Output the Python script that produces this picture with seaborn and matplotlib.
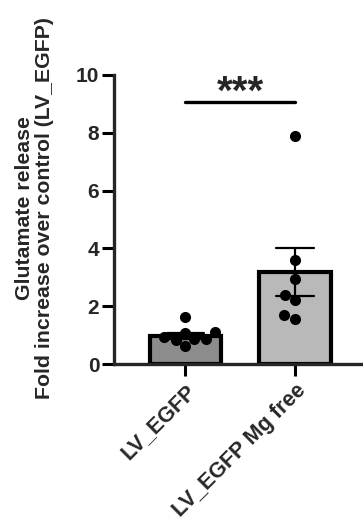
import matplotlib
matplotlib.use('Agg')
import matplotlib.pyplot as plt
import pandas as pd
import seaborn as sns

# data
groups = ['LV_EGFP', 'LV_EGFP Mg free']
egfp = [0.83, 1.06, 0.86, 1.62, 0.93, 1.09, 0.62, 0.86]
mg_free = [7.9, 3.6, 2.95, 2.4, 2.2, 1.7, 1.55]
bar_colors = ['#8c8c8c', '#b9b9b9']
y_ticks = [0, 2, 4, 6, 8, 10]
sig_label = '***'
sig_height = 9.07

df = pd.DataFrame({
    'group': [groups[0]] * len(egfp) + [groups[1]] * len(mg_free),
    'value': egfp + mg_free,
})

sns.set_style('ticks')
plt.rcParams['font.family'] = ['Liberation Sans', 'DejaVu Sans']
plt.rcParams['font.weight'] = 'bold'

fig = plt.figure(figsize=(3.63, 5.22), dpi=100)
ax = fig.add_axes([114 / 363, 1 - 364 / 522, 249 / 363, (364 - 75) / 522])

sns.barplot(data=df, x='group', y='value', hue='group', order=groups,
            palette=bar_colors, errorbar='se', capsize=0.34, width=0.65,
            edgecolor='black', linewidth=3,
            err_kws={'color': 'black', 'linewidth': 1.6},
            legend=False, ax=ax)
sns.swarmplot(data=df, x='group', y='value', order=groups, color='black',
              size=8, ax=ax, zorder=5)

# significance bar between the two groups
ax.plot([0, 1], [sig_height, sig_height], color='black', lw=2.4, clip_on=False)
ax.text(0.5, sig_height - 0.05, sig_label, ha='center', va='baseline',
        fontsize=29, fontweight='bold')

ax.set_xlim(-0.65, 1.62)
ax.set_ylim(0, 10)
ax.set_yticks(y_ticks)
ax.set_xlabel('')
ax.set_ylabel('Glutamate release\nFold increase over control (LV_EGFP)',
              fontsize=15.3, fontweight='bold', linespacing=1.05)
ax.yaxis.set_label_coords(-0.242, 0.541)

sns.despine(ax=ax)
for s in ['left', 'bottom']:
    ax.spines[s].set_linewidth(2.4)
ax.tick_params(length=8.6, width=2.2, labelsize=15, pad=2, color='black')
ax.tick_params(axis='x', pad=3, labelsize=15.5)
plt.setp(ax.get_xticklabels(), rotation=45, ha='right', va='top',
         rotation_mode='anchor')
for lab in ax.get_xticklabels() + ax.get_yticklabels():
    lab.set_fontweight('bold')

fig.savefig('out.png', dpi=100)
